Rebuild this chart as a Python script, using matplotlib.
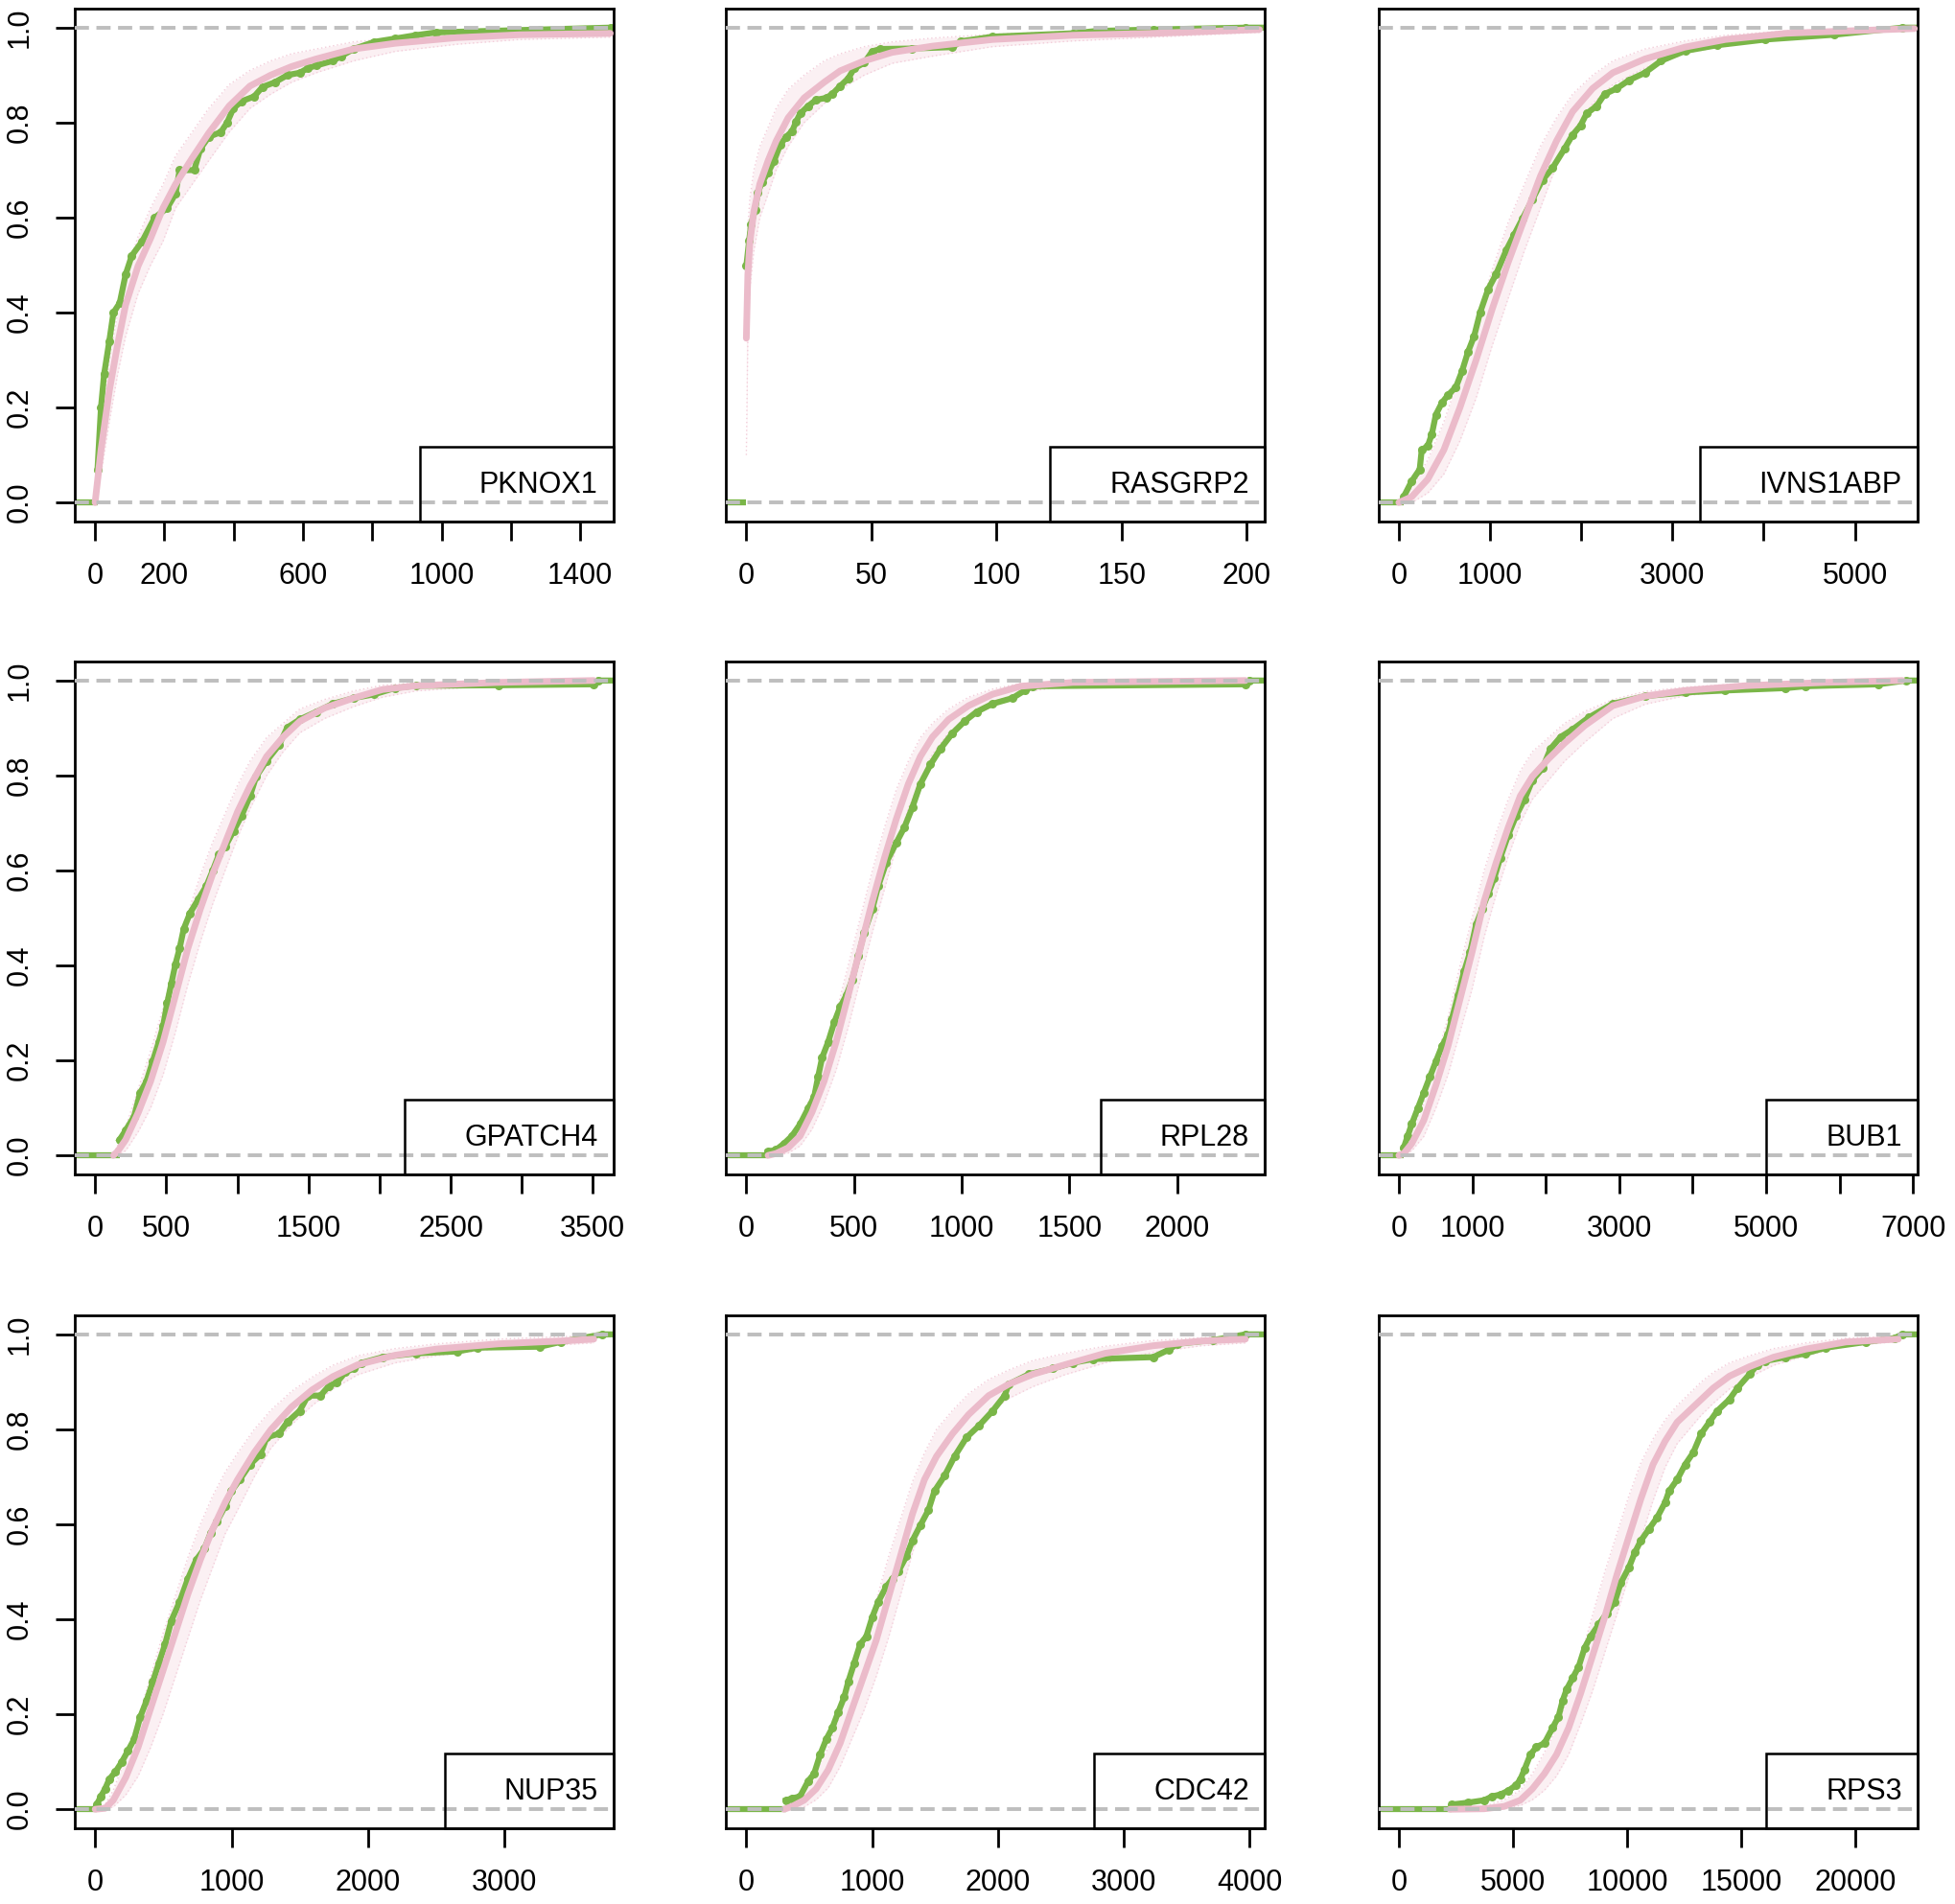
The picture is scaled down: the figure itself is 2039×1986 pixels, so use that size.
import matplotlib
matplotlib.use("Agg")
import matplotlib.pyplot as plt
from matplotlib.patches import Rectangle

plt.rcParams['font.family'] = ['Liberation Sans', 'DejaVu Sans']

# ---------------- data ----------------
genes = ["PKNOX1", "RASGRP2", "IVNS1ABP", "GPATCH4", "RPL28", "BUB1", "NUP35", "CDC42", "RPS3"]

# x-axis ticks / labels per panel
xticks = [
    [0, 200, 400, 600, 800, 1000, 1200, 1400],
    [0, 50, 100, 150, 200],
    [0, 1000, 2000, 3000, 4000, 5000],
    [0, 500, 1000, 1500, 2000, 2500, 3000, 3500],
    [0, 500, 1000, 1500, 2000],
    [0, 1000, 2000, 3000, 4000, 5000, 6000, 7000],
    [0, 1000, 2000, 3000],
    [0, 1000, 2000, 3000, 4000],
    [0, 5000, 10000, 15000, 20000],
]
xticklabels = [
    ["0", "200", "", "600", "", "1000", "", "1400"],
    ["0", "50", "100", "150", "200"],
    ["0", "1000", "", "3000", "", "5000"],
    ["0", "500", "", "1500", "", "2500", "", "3500"],
    ["0", "500", "1000", "1500", "2000"],
    ["0", "1000", "", "3000", "", "5000", "", "7000"],
    ["0", "1000", "2000", "3000"],
    ["0", "1000", "2000", "3000", "4000"],
    ["0", "5000", "10000", "15000", "20000"],
]
yticks = [0.0, 0.2, 0.4, 0.6, 0.8, 1.0]
yticklabels = ["0.0", "0.2", "0.4", "0.6", "0.8", "1.0"]

# observed ECDF (green)
pknox1_obs_x = [7, 17, 26, 41, 53, 71, 88, 106, 136, 172, 208, 232, 244, 286, 304, 328, 363, 381, 399, 423,
                459, 483, 519, 555, 591, 615, 638, 686, 710, 746, 806, 866, 925, 985, 1284, 1487]
pknox1_obs_y = [0.07, 0.2, 0.27, 0.34, 0.4, 0.42, 0.48, 0.52, 0.55, 0.6, 0.62, 0.65, 0.70, 0.70, 0.745, 0.77, 0.78, 0.8, 0.83, 0.845,
                0.855, 0.875, 0.885, 0.9, 0.905, 0.915, 0.92, 0.93, 0.94, 0.955, 0.97, 0.977, 0.984, 0.99, 0.996, 1.0]
rasgrp2_obs_x = [0, 1.1, 1.9, 3.5, 4.6, 6.3, 8.7, 11.1, 13.5, 15.9, 18.3, 19.9, 21.5, 24.7, 27.9, 31.9, 34.3, 37.5, 40.7, 43.1,
                 47.1, 50.3, 53.5, 66.3, 82.4, 85.6, 98.4, 130.4, 140, 162.5, 199.4]
rasgrp2_obs_y = [0.498, 0.551, 0.586, 0.616, 0.653, 0.675, 0.695, 0.72, 0.753, 0.77, 0.782, 0.802, 0.819, 0.835, 0.848, 0.852, 0.86, 0.877, 0.893, 0.914,
                 0.926, 0.95, 0.955, 0.956, 0.959, 0.971, 0.981, 0.988, 0.993, 0.996, 1.0]
ivns1abp_obs_x = [53, 141, 229, 251, 317, 362, 406, 472, 538, 626, 692, 758, 825, 891, 979, 1067, 1177, 1265, 1354,
                  1464, 1574, 1684, 1817, 1905, 1993, 2059, 2169, 2257, 2390, 2522, 2698, 2875, 3139, 3492, 4021, 4771, 5520]
ivns1abp_obs_y = [0.012, 0.045, 0.07, 0.111, 0.119, 0.144, 0.185, 0.21, 0.226, 0.243, 0.276, 0.317, 0.35, 0.4, 0.449, 0.481, 0.531, 0.564, 0.597,
                  0.638, 0.679, 0.704, 0.745, 0.774, 0.794, 0.819, 0.835, 0.86, 0.872, 0.889, 0.905, 0.93, 0.951, 0.963, 0.975, 0.985, 1.0]
gpatch4_obs_x = [172, 215, 274, 317, 361, 405, 448, 478, 507, 536, 565, 594, 623, 667, 725, 783, 827, 871, 914, 973,
                 1031, 1089, 1133, 1206, 1293, 1351, 1439, 1555, 1672, 1817, 1963, 2108, 2254, 2836, 3506, 3535]
gpatch4_obs_y = [0.033, 0.053, 0.082, 0.132, 0.156, 0.198, 0.239, 0.272, 0.321, 0.362, 0.403, 0.436, 0.477, 0.51, 0.539, 0.568, 0.6, 0.634, 0.65, 0.683,
                 0.716, 0.757, 0.798, 0.831, 0.864, 0.901, 0.918, 0.934, 0.951, 0.963, 0.971, 0.984, 0.989, 0.99, 0.992, 1.0]
rpl28_obs_x = [101, 138, 175, 212, 250, 287, 315, 333, 352, 380, 408, 436, 464, 492, 520, 547, 585, 613, 650, 696,
               734, 771, 808, 855, 901, 957, 1013, 1069, 1143, 1236, 1292, 1330, 2317, 2335]
rpl28_obs_y = [0.008, 0.012, 0.025, 0.041, 0.066, 0.099, 0.123, 0.165, 0.206, 0.239, 0.28, 0.313, 0.337, 0.37, 0.42, 0.469, 0.519, 0.568, 0.617, 0.658,
               0.691, 0.733, 0.782, 0.823, 0.856, 0.889, 0.914, 0.934, 0.951, 0.963, 0.979, 0.988, 0.992, 1.0]
bub1_obs_x = [66, 120, 175, 257, 339, 421, 504, 586, 668, 722, 805, 887, 969, 1051, 1133, 1215, 1297, 1379, 1489, 1598,
              1708, 1817, 1954, 2063, 2200, 2365, 2583, 2912, 3350, 3897, 4444, 5265, 5539, 6524, 6908]
bub1_obs_y = [0.016, 0.041, 0.066, 0.099, 0.132, 0.165, 0.198, 0.23, 0.255, 0.288, 0.337, 0.387, 0.428, 0.486, 0.519, 0.551, 0.584, 0.626, 0.675, 0.716,
              0.749, 0.79, 0.815, 0.856, 0.881, 0.897, 0.922, 0.951, 0.967, 0.975, 0.979, 0.984, 0.988, 0.992, 1.0]
nup35_obs_x = [12, 42, 73, 103, 149, 194, 240, 285, 331, 376, 422, 467, 513, 558, 619, 679, 740, 801, 846, 892,
               952, 998, 1059, 1134, 1210, 1256, 1347, 1407, 1498, 1559, 1650, 1711, 1771, 1832, 1893, 1953, 2105, 2348, 2651, 2803,
               3258, 3409, 3712]
nup35_obs_y = [0.01, 0.027, 0.043, 0.063, 0.079, 0.099, 0.123, 0.147, 0.195, 0.228, 0.268, 0.308, 0.348, 0.397, 0.437, 0.485, 0.525, 0.549, 0.582, 0.606,
               0.638, 0.67, 0.694, 0.726, 0.747, 0.783, 0.791, 0.815, 0.839, 0.871, 0.871, 0.891, 0.899, 0.92, 0.928, 0.94, 0.952, 0.96, 0.964, 0.972,
               0.974, 0.984, 1.0]
cdc42_obs_x = [316, 364, 427, 491, 539, 587, 635, 683, 730, 778, 810, 858, 906, 954, 1002, 1049, 1113, 1161, 1209, 1273,
               1321, 1384, 1448, 1496, 1576, 1656, 1751, 1847, 1959, 2054, 2086, 2246, 2437, 2596, 2756, 3234, 3362, 3426, 3713, 3968]
cdc42_obs_y = [0.019, 0.023, 0.027, 0.059, 0.075, 0.115, 0.147, 0.171, 0.204, 0.236, 0.268, 0.308, 0.348, 0.364, 0.405, 0.437, 0.469, 0.485, 0.501, 0.533,
               0.566, 0.598, 0.63, 0.67, 0.702, 0.743, 0.783, 0.807, 0.839, 0.871, 0.895, 0.916, 0.928, 0.94, 0.948, 0.952, 0.968, 0.98, 0.988, 1.0]
rps3_obs_x = [2326, 3031, 3736, 4088, 4441, 4793, 5145, 5322, 5498, 5762, 6026, 6379, 6731, 6996, 7172, 7348, 7612, 7877, 8141, 8405,
              8758, 9110, 9463, 9727, 10079, 10344, 10608, 10960, 11313, 11665, 11841, 12194, 12546, 12899, 13251, 13604, 13956, 14485, 14837, 15366,
              15718, 16070, 16952, 17833, 18714, 20476, 21709, 22062]
rps3_obs_y = [0.01, 0.014, 0.019, 0.027, 0.031, 0.039, 0.051, 0.063, 0.083, 0.115, 0.131, 0.139, 0.171, 0.195, 0.228, 0.252, 0.276, 0.3, 0.34, 0.364,
              0.389, 0.413, 0.437, 0.477, 0.509, 0.541, 0.566, 0.59, 0.614, 0.646, 0.67, 0.694, 0.726, 0.751, 0.791, 0.815, 0.839, 0.863, 0.887, 0.916,
              0.936, 0.944, 0.952, 0.96, 0.972, 0.984, 0.992, 1.0]

# mean simulated ECDF (thick pink) with lower / upper extent of simulated ECDFs
pknox1_sim_x = [0, 17, 41, 65, 88, 124, 160, 196, 232, 280, 328, 387, 447, 507, 567, 638, 746, 866, 1045, 1224, 1487]
pknox1_sim_y = [0, 0.11, 0.235, 0.333, 0.416, 0.498, 0.556, 0.62, 0.67, 0.725, 0.778, 0.835, 0.877, 0.9, 0.918, 0.934, 0.955, 0.967, 0.979, 0.985, 0.988]
pknox1_sim_hi = [0.02, 0.17, 0.3, 0.4, 0.48, 0.56, 0.62, 0.67, 0.73, 0.78, 0.83, 0.88, 0.91, 0.93, 0.945, 0.955, 0.97, 0.978, 0.987, 0.99, 0.993]
pknox1_sim_lo = [0, 0.06, 0.17, 0.27, 0.35, 0.44, 0.5, 0.55, 0.62, 0.67, 0.72, 0.78, 0.83, 0.86, 0.885, 0.905, 0.93, 0.95, 0.965, 0.975, 0.98]

rasgrp2_sim_x = [0, 0.6, 1.4, 3.0, 5.4, 8.7, 11.9, 16.7, 23.1, 31.1, 37.5, 47.1, 58.3, 74.4, 98.4, 130.4, 162.5, 205]
rasgrp2_sim_y = [0.346, 0.48, 0.547, 0.613, 0.671, 0.72, 0.761, 0.81, 0.852, 0.885, 0.909, 0.93, 0.948, 0.961, 0.975, 0.984, 0.988, 0.996]
rasgrp2_sim_hi = [0.45, 0.58, 0.64, 0.7, 0.75, 0.79, 0.83, 0.87, 0.9, 0.93, 0.945, 0.96, 0.97, 0.978, 0.986, 0.992, 0.995, 0.999]
rasgrp2_sim_lo = [0.1, 0.35, 0.45, 0.53, 0.6, 0.65, 0.7, 0.75, 0.8, 0.84, 0.87, 0.9, 0.925, 0.94, 0.96, 0.972, 0.98, 0.99]

ivns1abp_sim_x = [0, 141, 317, 494, 670, 847, 1023, 1199, 1376, 1552, 1728, 1905, 2125, 2346, 2698, 3139, 3580, 4242, 4903, 5653]
ivns1abp_sim_y = [0, 0.012, 0.049, 0.111, 0.2, 0.3, 0.407, 0.506, 0.597, 0.687, 0.761, 0.823, 0.872, 0.905, 0.934, 0.959, 0.975, 0.988, 0.993, 0.998]
ivns1abp_sim_hi = [0.005, 0.03, 0.09, 0.17, 0.27, 0.38, 0.49, 0.59, 0.67, 0.75, 0.81, 0.86, 0.9, 0.93, 0.955, 0.972, 0.984, 0.993, 0.997, 1.0]
ivns1abp_sim_lo = [0, 0.0, 0.02, 0.06, 0.13, 0.22, 0.33, 0.43, 0.53, 0.62, 0.71, 0.78, 0.84, 0.88, 0.915, 0.945, 0.963, 0.98, 0.988, 0.995]

gpatch4_sim_x = [128, 157, 215, 303, 390, 478, 565, 652, 740, 827, 914, 1002, 1089, 1206, 1322, 1439, 1613, 1817, 2021, 2254, 2836, 3506]
gpatch4_sim_y = [0, 0.008, 0.033, 0.09, 0.156, 0.239, 0.337, 0.436, 0.519, 0.593, 0.658, 0.724, 0.778, 0.84, 0.881, 0.914, 0.942, 0.963, 0.981, 0.989, 0.996, 1.0]
gpatch4_sim_hi = [0.005, 0.02, 0.06, 0.14, 0.22, 0.31, 0.41, 0.51, 0.59, 0.66, 0.72, 0.78, 0.83, 0.88, 0.91, 0.94, 0.96, 0.978, 0.99, 0.995, 0.999, 1.0]
gpatch4_sim_lo = [0, 0, 0.01, 0.05, 0.1, 0.17, 0.26, 0.36, 0.45, 0.53, 0.6, 0.67, 0.73, 0.8, 0.85, 0.89, 0.92, 0.945, 0.965, 0.978, 0.99, 0.998]

rpl28_sim_x = [101, 138, 194, 250, 305, 361, 417, 473, 529, 585, 641, 696, 752, 808, 864, 939, 1032, 1143, 1274, 1516, 2317]
rpl28_sim_y = [0, 0.004, 0.016, 0.041, 0.091, 0.156, 0.239, 0.337, 0.436, 0.535, 0.626, 0.708, 0.782, 0.84, 0.881, 0.918, 0.947, 0.971, 0.988, 0.996, 1.0]
rpl28_sim_hi = [0, 0.01, 0.03, 0.07, 0.13, 0.21, 0.3, 0.4, 0.5, 0.6, 0.69, 0.77, 0.83, 0.88, 0.91, 0.94, 0.965, 0.982, 0.994, 0.998, 1.0]
rpl28_sim_lo = [0, 0, 0.005, 0.02, 0.055, 0.11, 0.18, 0.27, 0.37, 0.47, 0.56, 0.65, 0.73, 0.79, 0.845, 0.89, 0.925, 0.955, 0.975, 0.99, 0.998]

bub1_sim_x = [0, 66, 175, 339, 504, 668, 832, 996, 1160, 1325, 1489, 1653, 1817, 2036, 2255, 2529, 2912, 3350, 3897, 4718, 5813, 6853]
bub1_sim_y = [0, 0.004, 0.025, 0.074, 0.148, 0.23, 0.329, 0.428, 0.535, 0.617, 0.691, 0.757, 0.798, 0.835, 0.868, 0.905, 0.947, 0.967, 0.979, 0.989, 0.996, 1.0]
bub1_sim_hi = [0, 0.01, 0.05, 0.11, 0.2, 0.29, 0.4, 0.5, 0.6, 0.68, 0.75, 0.81, 0.85, 0.88, 0.91, 0.935, 0.96, 0.977, 0.986, 0.994, 0.999, 1.0]
bub1_sim_lo = [0, 0, 0.01, 0.04, 0.1, 0.17, 0.26, 0.35, 0.46, 0.55, 0.63, 0.7, 0.75, 0.79, 0.83, 0.87, 0.92, 0.95, 0.968, 0.982, 0.992, 0.998]

nup35_sim_x = [0, 73, 133, 224, 315, 406, 497, 588, 679, 770, 861, 952, 1043, 1165, 1286, 1438, 1589, 1741, 1923, 2196, 2499, 2954, 3409, 3652]
nup35_sim_y = [0, 0.002, 0.019, 0.067, 0.131, 0.212, 0.292, 0.372, 0.453, 0.525, 0.59, 0.646, 0.694, 0.751, 0.799, 0.847, 0.883, 0.911, 0.936, 0.956, 0.969, 0.98, 0.986, 0.99]
nup35_sim_hi = [0, 0.01, 0.04, 0.11, 0.19, 0.28, 0.37, 0.45, 0.53, 0.6, 0.66, 0.71, 0.75, 0.8, 0.84, 0.88, 0.91, 0.935, 0.955, 0.97, 0.98, 0.99, 0.995, 0.998]
nup35_sim_lo = [0, 0, 0.005, 0.03, 0.07, 0.13, 0.2, 0.28, 0.36, 0.44, 0.51, 0.58, 0.63, 0.7, 0.76, 0.81, 0.85, 0.885, 0.915, 0.94, 0.955, 0.97, 0.978, 0.982]

cdc42_sim_x = [300, 364, 459, 555, 651, 746, 842, 938, 1033, 1129, 1225, 1321, 1416, 1512, 1640, 1767, 1927, 2086, 2278, 2533, 2852, 3234, 3617, 3968]
cdc42_sim_y = [0, 0.006, 0.019, 0.043, 0.083, 0.139, 0.212, 0.284, 0.356, 0.445, 0.533, 0.622, 0.694, 0.743, 0.791, 0.831, 0.871, 0.895, 0.916, 0.936, 0.96, 0.976, 0.986, 0.99]
cdc42_sim_hi = [0.003, 0.015, 0.04, 0.08, 0.13, 0.2, 0.28, 0.36, 0.44, 0.53, 0.61, 0.69, 0.75, 0.8, 0.84, 0.875, 0.905, 0.925, 0.945, 0.96, 0.975, 0.987, 0.993, 0.996]
cdc42_sim_lo = [0, 0, 0.005, 0.02, 0.045, 0.09, 0.15, 0.21, 0.28, 0.36, 0.45, 0.54, 0.62, 0.68, 0.74, 0.79, 0.835, 0.865, 0.89, 0.915, 0.94, 0.962, 0.976, 0.982]

rps3_sim_x = [2238, 3736, 4617, 5322, 5850, 6379, 6907, 7436, 7965, 8493, 9022, 9551, 10079, 10608, 11137, 11665, 12194, 12722, 13251, 13780,
              14485, 15366, 16423, 17833, 19595, 21885]
rps3_sim_y = [0, 0.001, 0.006, 0.019, 0.043, 0.075, 0.115, 0.171, 0.244, 0.324, 0.405, 0.493, 0.574, 0.654, 0.726, 0.775, 0.815, 0.839, 0.863, 0.887,
              0.912, 0.932, 0.952, 0.969, 0.984, 0.99]
rps3_sim_hi = [0.002, 0.006, 0.02, 0.04, 0.075, 0.12, 0.17, 0.24, 0.32, 0.41, 0.5, 0.58, 0.66, 0.73, 0.78, 0.82, 0.85, 0.875, 0.9, 0.92,
               0.94, 0.955, 0.97, 0.982, 0.992, 0.996]
rps3_sim_lo = [0, 0, 0.002, 0.008, 0.02, 0.04, 0.07, 0.115, 0.18, 0.25, 0.33, 0.41, 0.49, 0.57, 0.65, 0.72, 0.77, 0.8, 0.83, 0.855,
               0.885, 0.91, 0.935, 0.955, 0.975, 0.985]

obs_x = [pknox1_obs_x, rasgrp2_obs_x, ivns1abp_obs_x, gpatch4_obs_x, rpl28_obs_x, bub1_obs_x, nup35_obs_x, cdc42_obs_x, rps3_obs_x]
obs_y = [pknox1_obs_y, rasgrp2_obs_y, ivns1abp_obs_y, gpatch4_obs_y, rpl28_obs_y, bub1_obs_y, nup35_obs_y, cdc42_obs_y, rps3_obs_y]
sim_x = [pknox1_sim_x, rasgrp2_sim_x, ivns1abp_sim_x, gpatch4_sim_x, rpl28_sim_x, bub1_sim_x, nup35_sim_x, cdc42_sim_x, rps3_sim_x]
sim_y = [pknox1_sim_y, rasgrp2_sim_y, ivns1abp_sim_y, gpatch4_sim_y, rpl28_sim_y, bub1_sim_y, nup35_sim_y, cdc42_sim_y, rps3_sim_y]
sim_hi = [pknox1_sim_hi, rasgrp2_sim_hi, ivns1abp_sim_hi, gpatch4_sim_hi, rpl28_sim_hi, bub1_sim_hi, nup35_sim_hi, cdc42_sim_hi, rps3_sim_hi]
sim_lo = [pknox1_sim_lo, rasgrp2_sim_lo, ivns1abp_sim_lo, gpatch4_sim_lo, rpl28_sim_lo, bub1_sim_lo, nup35_sim_lo, cdc42_sim_lo, rps3_sim_lo]

# ---------------- styling / layout ----------------
xlims = [(-58.6, 1496.6), (-8.2, 207.1), (-220, 5688), (-143, 3646), (-95, 2406),
         (-274, 7061), (-149, 3797), (-163, 4121), (-881, 22731)]
GREEN = "#7AB648"
PINK = "#EBBBCA"
FAINT = "#F3CEDA"
GREY = "#BEBEBE"

W, H = 2040, 1986
fig = plt.figure(figsize=(W / 100, H / 100), dpi=100)
fig.patch.set_facecolor("white")

col_left = [78, 757, 1438]
row_top = [9, 690, 1372]
ax_w, ax_h = 562, 535

renderer = fig.canvas.get_renderer()
for i in range(9):
    r, c = divmod(i, 3)
    ax = fig.add_axes([col_left[c] / W, 1 - (row_top[r] + ax_h) / H, ax_w / W, ax_h / H])
    x0, x1 = xlims[i]
    ax.set_xlim(x0, x1)
    ax.set_ylim(-0.04, 1.04)

    # faint simulated ECDF spread
    ax.fill_between(sim_x[i], sim_lo[i], sim_hi[i], color=FAINT, alpha=0.30, lw=0, zorder=1)
    ax.plot(sim_x[i], sim_hi[i], color=FAINT, lw=1.0, ls=(0, (1, 2)), zorder=1.2)
    ax.plot(sim_x[i], sim_lo[i], color=FAINT, lw=1.0, ls=(0, (1, 2)), zorder=1.2)

    # observed ECDF: flat part at zero, then the curve with its points
    ax.plot([x0, obs_x[i][0]], [0, 0], color=GREEN, lw=4.5, zorder=2, solid_capstyle="butt")
    ax.plot(list(obs_x[i]) + [x1], list(obs_y[i]) + [1.0], color=GREEN, lw=4.5, zorder=2,
            solid_joinstyle="miter")
    ax.plot(obs_x[i], obs_y[i], "o", color=GREEN, ms=6.5, mew=0, zorder=2.1)

    # mean simulated ECDF
    ax.plot(sim_x[i], sim_y[i], color=PINK, lw=5.0, zorder=3, solid_capstyle="round")

    # reference lines
    for yv in (0, 1):
        ax.axhline(yv, color=GREY, lw=2.8, dashes=(3.8, 2.0), zorder=4)

    for s in ax.spines.values():
        s.set_linewidth(2.0)
        s.set_color("black")

    ax.set_xticks(xticks[i])
    ax.set_xticklabels(xticklabels[i], fontsize=22)
    ax.tick_params(axis="x", length=14.5, width=2.0, pad=15.5, direction="out")
    if c == 0:
        ax.set_yticks(yticks)
        ax.set_yticklabels(yticklabels, fontsize=22, rotation=90, va="center")
        ax.tick_params(axis="y", length=14.5, width=2.0, pad=16, direction="out")
    else:
        ax.set_yticks([])

    # legend-like label box (bottom right)
    txt = ax.text(0.971, 0.071, genes[i], transform=ax.transAxes, ha="right", va="center",
                  fontsize=22, zorder=6)
    bb = txt.get_window_extent(renderer).transformed(ax.transAxes.inverted())
    pad = 62 / ax_w
    left = bb.x0 - pad
    ax.add_patch(Rectangle((left, 0), 1 - left, 0.145, transform=ax.transAxes,
                           fill=False, edgecolor="black", lw=1.8, zorder=5, clip_on=False))

fig.savefig("out.png", dpi=100, facecolor="white")
